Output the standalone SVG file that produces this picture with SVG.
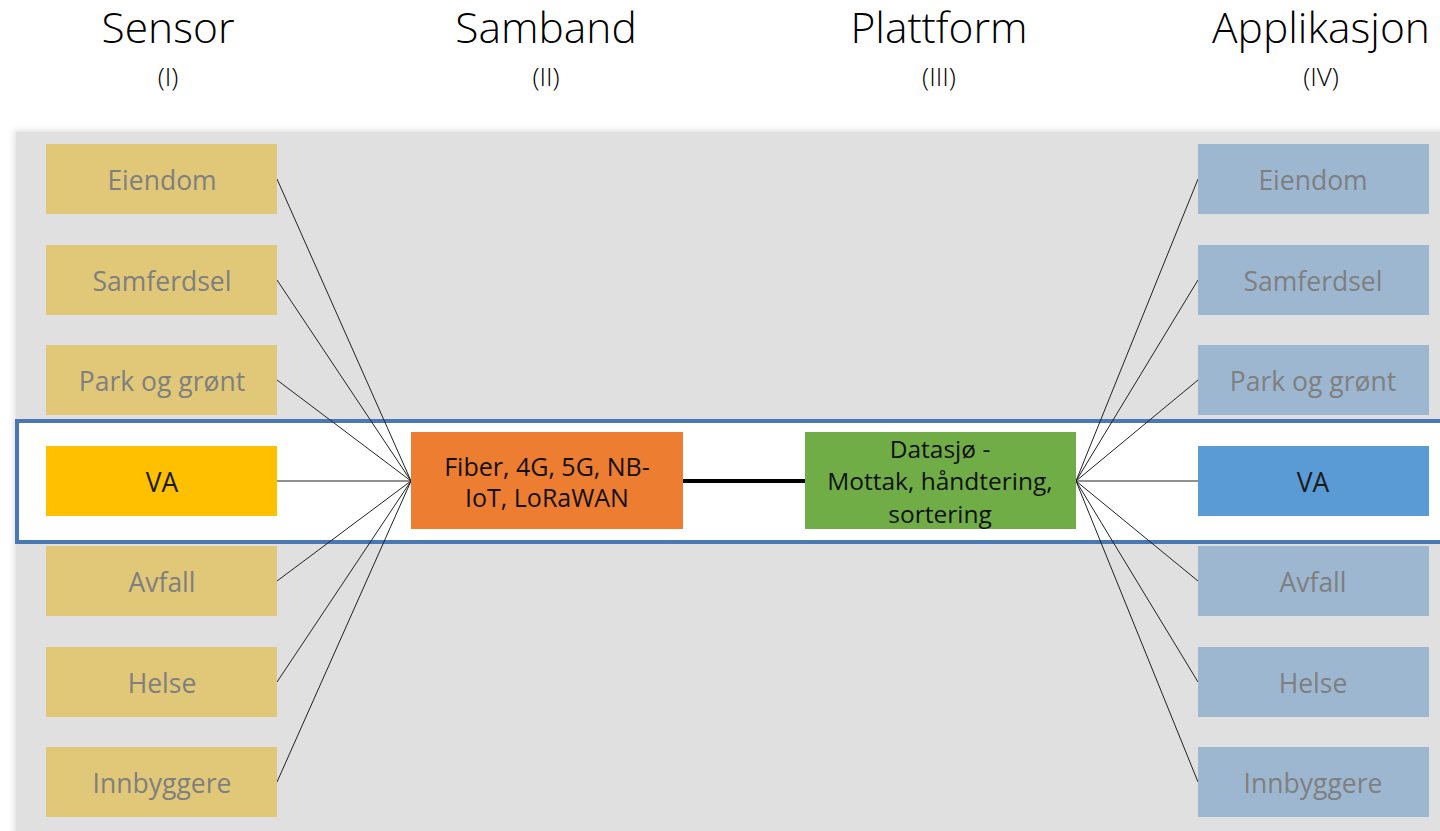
<svg xmlns="http://www.w3.org/2000/svg" width="1440" height="831" viewBox="0 0 1440 831">
<defs>
<filter id="sh" x="-5%" y="-5%" width="110%" height="110%"><feGaussianBlur stdDeviation="3"/></filter>
<style>
.hd{font-family:"Open Sans","Liberation Sans",sans-serif;font-weight:300;font-size:42.5px;fill:#000;text-anchor:middle}
.sub{font-family:"Open Sans","Liberation Sans",sans-serif;font-weight:300;font-size:26px;fill:#000;text-anchor:middle}
.lt{font-family:"Open Sans","Liberation Sans",sans-serif;font-size:26.5px;fill:#7f7f7f;text-anchor:middle}
.va{font-family:"Open Sans","Liberation Sans",sans-serif;font-size:26.5px;fill:#1a1a1a;text-anchor:middle}
.ct{font-family:"Open Sans","Liberation Sans",sans-serif;font-size:25px;fill:#111;text-anchor:middle}
.cg{font-family:"Open Sans","Liberation Sans",sans-serif;font-size:24.5px;fill:#111;text-anchor:middle}
.ly{fill:#e0c878}
.lb{fill:#9db7d1}
.cn line{stroke:#222;stroke-width:1}
</style>
</defs>
<rect x="0" y="0" width="1440" height="831" fill="#fff"/>
<rect x="14" y="130" width="1440" height="710" fill="#000" opacity="0.12" filter="url(#sh)"/>
<rect x="16" y="132" width="1430" height="699" fill="#e0e0e0"/>
<rect x="17" y="421" width="1430" height="121" fill="#fff" stroke="#4a78b4" stroke-width="4"/>

<g id="headers">
<text class="hd" x="168" y="43">Sensor</text>
<text class="sub" x="168" y="86">(I)</text>
<text class="hd" x="546" y="43">Samband</text>
<text class="sub" x="546" y="86">(II)</text>
<text class="hd" x="939" y="43">Plattform</text>
<text class="sub" x="939" y="86">(III)</text>
<text class="hd" x="1321" y="43">Applikasjon</text>
<text class="sub" x="1321" y="86">(IV)</text>
</g>

<g class="cn" id="connectors">
<line x1="277" y1="179" x2="411" y2="481"/>
<line x1="277" y1="280" x2="411" y2="481"/>
<line x1="277" y1="380" x2="411" y2="481"/>
<line x1="277" y1="481" x2="411" y2="481"/>
<line x1="277" y1="581" x2="411" y2="481"/>
<line x1="277" y1="682" x2="411" y2="481"/>
<line x1="277" y1="782" x2="411" y2="481"/>
<line x1="1076" y1="481" x2="1198" y2="179"/>
<line x1="1076" y1="481" x2="1198" y2="280"/>
<line x1="1076" y1="481" x2="1198" y2="380"/>
<line x1="1076" y1="481" x2="1198" y2="481"/>
<line x1="1076" y1="481" x2="1198" y2="581"/>
<line x1="1076" y1="481" x2="1198" y2="682"/>
<line x1="1076" y1="481" x2="1198" y2="782"/>
<line x1="683" y1="481" x2="805" y2="481" style="stroke:#000;stroke-width:4"/>
</g>

<g id="s-eiendom"><rect class="ly" x="46" y="144" width="231" height="70"/><text class="lt" x="162" y="190">Eiendom</text></g>
<g id="s-samferdsel"><rect class="ly" x="46" y="245" width="231" height="70"/><text class="lt" x="162" y="291">Samferdsel</text></g>
<g id="s-park"><rect class="ly" x="46" y="345" width="231" height="70"/><text class="lt" x="162" y="391">Park og grønt</text></g>
<g id="s-va"><rect fill="#ffc000" x="46" y="446" width="231" height="70"/><text class="va" x="162" y="492">VA</text></g>
<g id="s-avfall"><rect class="ly" x="46" y="546" width="231" height="70"/><text class="lt" x="162" y="592">Avfall</text></g>
<g id="s-helse"><rect class="ly" x="46" y="647" width="231" height="70"/><text class="lt" x="162" y="693">Helse</text></g>
<g id="s-innbyggere"><rect class="ly" x="46" y="747" width="231" height="70"/><text class="lt" x="162" y="793">Innbyggere</text></g>

<g id="samband"><rect fill="#ed7d31" x="411" y="432" width="272" height="97"/>
<text class="ct" x="547" y="476">Fiber, 4G, 5G, NB-</text>
<text class="ct" x="547" y="507">IoT, LoRaWAN</text></g>

<g id="plattform"><rect fill="#70ad47" x="805" y="432" width="271" height="97"/>
<text class="cg" x="940" y="458">Datasjø -</text>
<text class="cg" x="940" y="490">Mottak, håndtering,</text>
<text class="cg" x="940" y="523">sortering</text></g>

<g id="a-eiendom"><rect class="lb" x="1198" y="144" width="231" height="70"/><text class="lt" x="1313" y="190">Eiendom</text></g>
<g id="a-samferdsel"><rect class="lb" x="1198" y="245" width="231" height="70"/><text class="lt" x="1313" y="291">Samferdsel</text></g>
<g id="a-park"><rect class="lb" x="1198" y="345" width="231" height="70"/><text class="lt" x="1313" y="391">Park og grønt</text></g>
<g id="a-va"><rect fill="#5b9bd5" x="1198" y="446" width="231" height="70"/><text class="va" x="1313" y="492">VA</text></g>
<g id="a-avfall"><rect class="lb" x="1198" y="546" width="231" height="70"/><text class="lt" x="1313" y="592">Avfall</text></g>
<g id="a-helse"><rect class="lb" x="1198" y="647" width="231" height="70"/><text class="lt" x="1313" y="693">Helse</text></g>
<g id="a-innbyggere"><rect class="lb" x="1198" y="747" width="231" height="70"/><text class="lt" x="1313" y="793">Innbyggere</text></g>
</svg>
